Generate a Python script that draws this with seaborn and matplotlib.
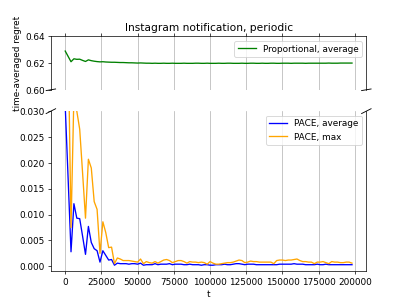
import numpy as np
import pandas as pd
import seaborn as sns
import matplotlib
matplotlib.use('Agg')
import matplotlib.pyplot as plt

# dados
t = list(range(0, 200000, 2000))

pace_avg = [0.0310, 0.0170, 0.0028, 0.0121, 0.0093, 0.0092, 0.0058, 0.0023, 0.0077, 0.0046,
            0.0034, 0.0030, 0.0008, 0.0030, 0.0021, 0.0012, 0.0013, 0.0002, 0.0006, 0.0005,
            0.0005, 0.0005, 0.0004, 0.0005, 0.0005, 0.0004, 0.0006, 0.0002, 0.0003, 0.0003,
            0.0003, 0.0005, 0.0003, 0.0004, 0.0004, 0.0004, 0.0005, 0.0003, 0.0004, 0.0004,
            0.0004, 0.0003, 0.0003, 0.0004, 0.0003, 0.0003, 0.0003, 0.0002, 0.0003, 0.0003,
            0.0002, 0.0002, 0.0003, 0.0003, 0.0003, 0.0004, 0.0003, 0.0003, 0.0004, 0.0005,
            0.0005, 0.0004, 0.0003, 0.0004, 0.0004, 0.0004, 0.0003, 0.0003, 0.0003, 0.0003,
            0.0003, 0.0003, 0.0003, 0.0003, 0.0004, 0.0004, 0.0004, 0.0004, 0.0004, 0.0005,
            0.0004, 0.0004, 0.0004, 0.0003, 0.0003, 0.0003, 0.0003, 0.0004, 0.0003, 0.0003,
            0.0004, 0.0003, 0.0003, 0.0003, 0.0003, 0.0003, 0.0003, 0.0003, 0.0003, 0.0003]

pace_max = [0.0650, 0.0450, 0.0075, 0.0330, 0.0300, 0.0265, 0.0180, 0.0093, 0.0207, 0.0190,
            0.0125, 0.0110, 0.0025, 0.0086, 0.0065, 0.0036, 0.0037, 0.0005, 0.0016, 0.0014,
            0.0011, 0.0011, 0.0011, 0.0010, 0.0009, 0.0008, 0.0014, 0.0005, 0.0009, 0.0007,
            0.0006, 0.0009, 0.0006, 0.0009, 0.0012, 0.0013, 0.0011, 0.0007, 0.0009, 0.0011,
            0.0011, 0.0009, 0.0006, 0.0009, 0.0008, 0.0008, 0.0007, 0.0008, 0.0007, 0.0004,
            0.0009, 0.0006, 0.0004, 0.0004, 0.0005, 0.0006, 0.0007, 0.0007, 0.0008, 0.0010,
            0.0012, 0.0011, 0.0007, 0.0008, 0.0010, 0.0009, 0.0009, 0.0008, 0.0008, 0.0008,
            0.0008, 0.0008, 0.0005, 0.0011, 0.0012, 0.0012, 0.0011, 0.0012, 0.0012, 0.0013,
            0.0014, 0.0011, 0.0009, 0.0009, 0.0008, 0.0008, 0.0005, 0.0008, 0.0008, 0.0009,
            0.0007, 0.0005, 0.0009, 0.0008, 0.0008, 0.0007, 0.0007, 0.0008, 0.0008, 0.0006]

prop_avg = [0.6290, 0.6250, 0.6210, 0.6232, 0.6228, 0.6229, 0.6220, 0.6212, 0.6224, 0.6218,
            0.6214, 0.6211, 0.6209, 0.6210, 0.6208, 0.6207, 0.6206, 0.6206, 0.6205, 0.6204,
            0.6204, 0.6203, 0.6202, 0.6202, 0.6201, 0.6200, 0.6201, 0.6200, 0.6199, 0.6199,
            0.6198, 0.6199, 0.6198, 0.6198, 0.6199, 0.6198, 0.6198, 0.6199, 0.6198, 0.6198,
            0.6198, 0.6199, 0.6198, 0.6198, 0.6198, 0.6199, 0.6199, 0.6198, 0.6198, 0.6199,
            0.6198, 0.6198, 0.6198, 0.6199, 0.6198, 0.6198, 0.6199, 0.6199, 0.6198, 0.6198,
            0.6198, 0.6199, 0.6198, 0.6198, 0.6199, 0.6199, 0.6198, 0.6198, 0.6199, 0.6198,
            0.6198, 0.6199, 0.6199, 0.6198, 0.6198, 0.6199, 0.6199, 0.6199, 0.6198, 0.6199,
            0.6199, 0.6199, 0.6199, 0.6198, 0.6199, 0.6199, 0.6199, 0.6199, 0.6199, 0.6199,
            0.6199, 0.6200, 0.6199, 0.6199, 0.6199, 0.6200, 0.6200, 0.6200, 0.6200, 0.6200]

df = pd.DataFrame({'t': t, 'pace_avg': pace_avg, 'pace_max': pace_max, 'prop_avg': prop_avg})

fig, (ax1, ax2) = plt.subplots(2, 1, sharex=True, figsize=(6.4, 4.8),
                               gridspec_kw={'height_ratios': [1, 3]})

# eixo de cima
sns.lineplot(data=df, x='t', y='prop_avg', ax=ax1, color='green', label='Proportional, average')
ax1.set_ylim(0.60, 0.64)
ax1.set_title('Instagram notification, periodic')
ax1.set_ylabel('time-averaged regret')
ax1.set_xlabel('')
ax1.legend(loc='upper right')

# eixo de baixo
sns.lineplot(data=df, x='t', y='pace_avg', ax=ax2, color='blue', label='PACE, average')
sns.lineplot(data=df, x='t', y='pace_max', ax=ax2, color='orange', label='PACE, max')
ax2.set_ylim(-0.001, 0.03)
ax2.set_ylabel('')
ax2.set_xlabel('t')
ax2.legend(loc='upper right')

for ax in (ax1, ax2):
    ax.grid(axis='x')

# eixo quebrado
ax1.spines['bottom'].set_visible(False)
ax2.spines['top'].set_visible(False)
ax1.xaxis.tick_top()
ax1.tick_params(labeltop=False)
ax2.xaxis.tick_bottom()

d = .015
kw = dict(transform=ax1.transAxes, color='k', clip_on=False, linewidth=1)
ax1.plot((-d, +d), (-d, +d), **kw)
ax1.plot((1 - d, 1 + d), (-d, +d), **kw)
kw.update(transform=ax2.transAxes)
ax2.plot((-d, +d), (1 - d, 1 + d), **kw)
ax2.plot((1 - d, 1 + d), (1 - d, 1 + d), **kw)

fig.savefig('out.png', dpi=63.6)
